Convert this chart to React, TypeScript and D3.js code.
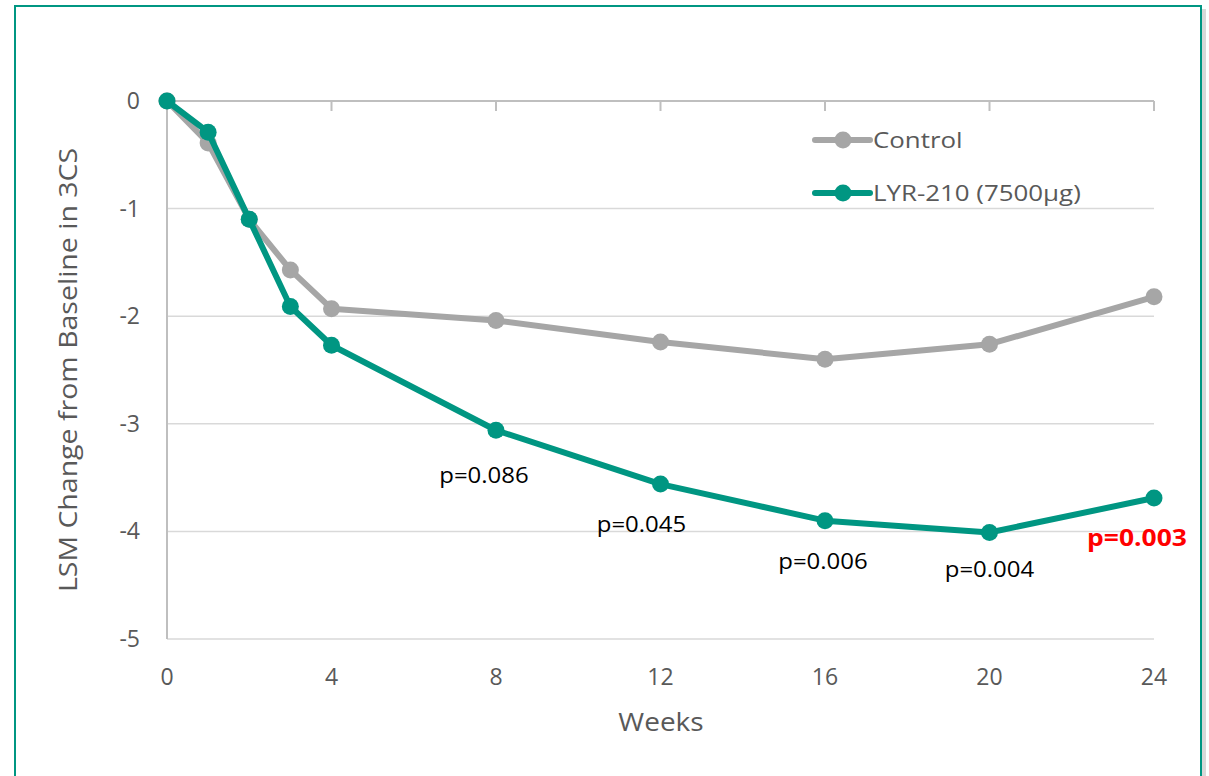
import React from "react";
import * as d3 from "d3";

// Weeks at which 3CS was assessed
const weeks = [0, 1, 2, 3, 4, 8, 12, 16, 20, 24];
// LSM change from baseline, control arm
const control = [0, -0.39, -1.1, -1.57, -1.93, -2.04, -2.24, -2.4, -2.26, -1.82];
// LSM change from baseline, LYR-210 (7500µg) arm
const lyr = [0, -0.29, -1.1, -1.91, -2.27, -3.06, -3.56, -3.9, -4.01, -3.69];
// p-values shown under the LYR-210 points
const pWeeks = [8, 12, 16, 20, 24];
const pLabels = ["p=0.086", "p=0.045", "p=0.006", "p=0.004", "p=0.003"];
const xTicks = [0, 4, 8, 12, 16, 20, 24];
const yTicks = [0, -1, -2, -3, -4, -5];
const seriesNames = ["Control", "LYR-210 (7500µg)"];

const GREY = "#a6a6a6";
const TEAL = "#009682";
const TEXT = "#595959";
const FONT = "'Open Sans', sans-serif";

// label placement relative to the point it annotates
const labelOffsets = [
  { dx: -12, dy: 45 },
  { dx: -19, dy: 40 },
  { dx: -2, dy: 41 },
  { dx: 0, dy: 37 },
  { dx: -17, dy: 40 },
];

type TProps = {
  x: number;
  y: number;
  size: number;
  sx?: number;
  rotate?: number;
  anchor?: "start" | "middle" | "end";
  fill?: string;
  weight?: string;
  children: React.ReactNode;
};

// text drawn with a slight horizontal widening to mimic a wide-set face
function T({ x, y, size, sx = 1, rotate = 0, anchor = "start", fill = TEXT, weight = "normal", children }: TProps) {
  return (
    <text
      transform={`translate(${x},${y}) rotate(${rotate}) scale(${sx},1)`}
      dy="0.35em"
      textAnchor={anchor}
      fontSize={size}
      fontWeight={weight}
      fill={fill}
    >
      {children}
    </text>
  );
}

export default function App() {
  const W = 1209;
  const H = 776;
  const x = d3.scaleLinear().domain([0, 24]).range([167, 1154]);
  const y = d3.scaleLinear().domain([0, -5]).range([101, 639]);

  const line = d3
    .line<number>()
    .x((_, i) => x(weeks[i]))
    .y((d) => y(d));

  const series = [
    { name: seriesNames[0], values: control, color: GREY },
    { name: seriesNames[1], values: lyr, color: TEAL },
  ];

  return (
    <svg
      width={W}
      height={H}
      style={{ position: "absolute", left: 0, top: 0 }}
      fontFamily={FONT}
    >
      <rect x={0} y={0} width={W} height={H} fill="#fff" />
      {/* frame with soft right shadow */}
      <rect x={1202} y={9} width={4} height={H} fill="#c8c8c8" opacity={0.7} />
      <rect
        x={15}
        y={6}
        width={1186}
        height={H + 20}
        fill="#fff"
        stroke={TEAL}
        strokeWidth={2}
      />

      {/* gridlines */}
      {yTicks.slice(1).map((t) => (
        <line
          key={t}
          x1={x(0)}
          x2={x(24)}
          y1={y(t)}
          y2={y(t)}
          stroke="#d9d9d9"
          strokeWidth={1.5}
        />
      ))}
      {/* vertical axis */}
      <line x1={x(0)} x2={x(0)} y1={y(0)} y2={y(-5)} stroke="#bfbfbf" strokeWidth={2} />
      {/* horizontal axis crossing at zero, ticks pointing down */}
      <line x1={x(0)} x2={x(24)} y1={y(0)} y2={y(0)} stroke="#bfbfbf" strokeWidth={2} />
      {xTicks.slice(1).map((t) => (
        <line
          key={t}
          x1={x(t)}
          x2={x(t)}
          y1={y(0)}
          y2={y(0) + 10}
          stroke="#bfbfbf"
          strokeWidth={2}
        />
      ))}

      {/* tick labels */}
      {yTicks.map((t) => (
        <T key={t} x={140} y={y(t)} size={23} anchor="end">
          {t}
        </T>
      ))}
      {xTicks.map((t) => (
        <T key={t} x={x(t)} y={677} size={23} anchor="middle">
          {t}
        </T>
      ))}

      {/* axis titles */}
      <T x={661} y={722} size={25} sx={1.12} anchor="middle">
        Weeks
      </T>
      <T x={68} y={370} size={25} sx={1.14} rotate={-90} anchor="middle">
        LSM Change from Baseline in 3CS
      </T>

      {/* series */}
      {series.map((s) => (
        <g key={s.name}>
          <path
            d={line(s.values) || ""}
            fill="none"
            stroke={s.color}
            strokeWidth={6}
            strokeLinejoin="round"
            strokeLinecap="round"
          />
          {s.values.map((v, i) => (
            <circle key={i} cx={x(weeks[i])} cy={y(v)} r={8.5} fill={s.color} />
          ))}
        </g>
      ))}

      {/* p-value labels */}
      {pWeeks.map((wk, i) => {
        const idx = weeks.indexOf(wk);
        const last = i === pWeeks.length - 1;
        return (
          <T
            key={wk}
            x={x(wk) + labelOffsets[i].dx}
            y={y(lyr[idx]) + labelOffsets[i].dy}
            size={last ? 23 : 22}
            sx={last ? 1.15 : 1.09}
            anchor="middle"
            weight={last ? "bold" : "normal"}
            fill={last ? "#ff0000" : "#000"}
          >
            {pLabels[i]}
          </T>
        );
      })}

      {/* legend */}
      {series.map((s, i) => {
        const ly = 140 + i * 53;
        return (
          <g key={s.name}>
            <line
              x1={815}
              x2={870}
              y1={ly}
              y2={ly}
              stroke={s.color}
              strokeWidth={6}
              strokeLinecap="round"
            />
            <circle cx={843} cy={ly} r={8.5} fill={s.color} />
            <T x={873} y={ly} size={22.5} sx={1.15}>
              {s.name}
            </T>
          </g>
        );
      })}
    </svg>
  );
}
